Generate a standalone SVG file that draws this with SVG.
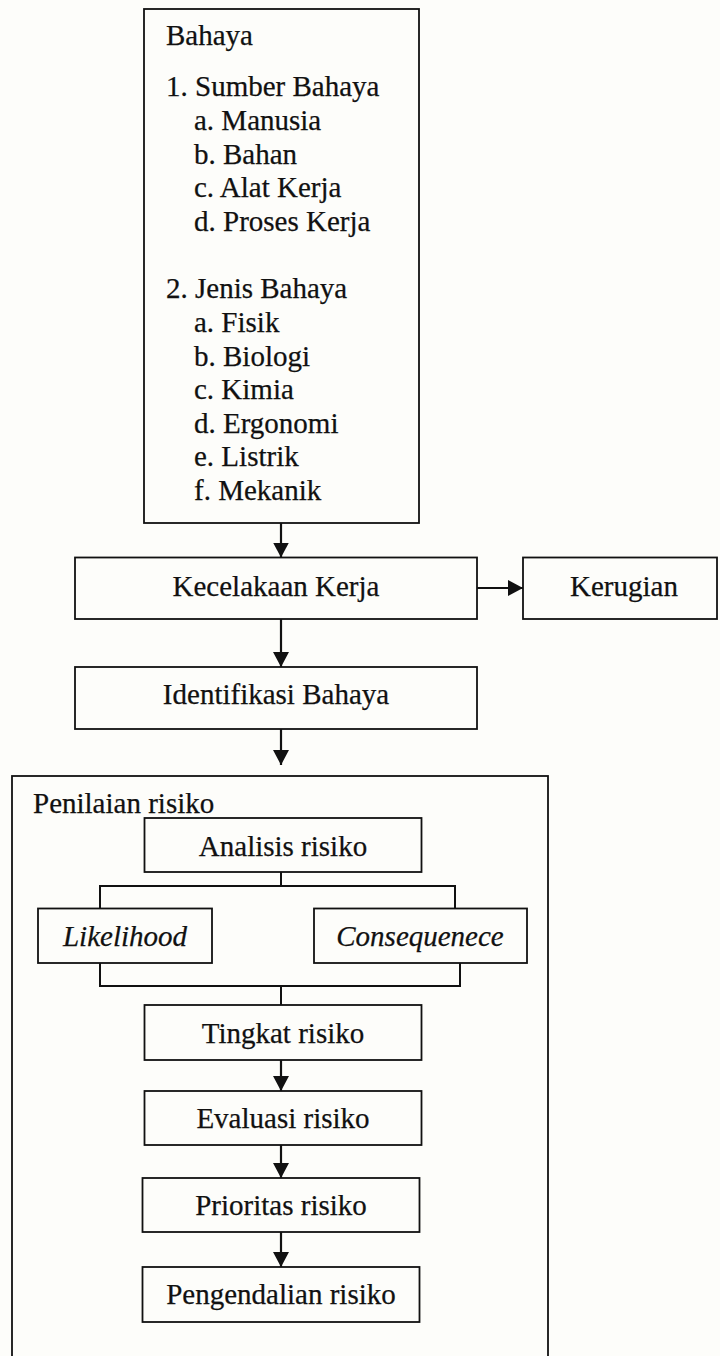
<svg xmlns="http://www.w3.org/2000/svg" width="720" height="1356" viewBox="0 0 720 1356">
  <style>
    .box { fill: none; stroke: #111; stroke-width: 1.8; }
    .t { font-family: "Liberation Serif", "Times New Roman", serif; font-size: 29px; fill: #111; stroke: #111; stroke-width: 0.25; }
    .c { text-anchor: middle; }
    .i { font-style: italic; }
    .wire { fill: none; stroke: #111; stroke-width: 2; }
    .arrow { fill: none; stroke: #111; stroke-width: 2.2; marker-end: url(#head); }
  </style>
  <defs>
    <marker id="head" viewBox="0 0 15 16" refX="15" refY="8" markerWidth="15" markerHeight="16" markerUnits="userSpaceOnUse" orient="auto">
      <path d="M0,0 L15,8 L0,16 Z" fill="#111"/>
    </marker>
  </defs>
  <rect width="720" height="1356" fill="#fdfdfa"/>

  <!-- hazard sources and types -->
  <g id="bahaya">
    <rect class="box" x="144" y="9" width="275" height="514"/>
    <text class="t" x="166" y="45">Bahaya</text>
    <text class="t" x="166" y="96">1. Sumber Bahaya</text>
    <text class="t" x="194" y="130">a. Manusia</text>
    <text class="t" x="194" y="164">b. Bahan</text>
    <text class="t" x="194" y="197">c. Alat Kerja</text>
    <text class="t" x="194" y="231">d. Proses Kerja</text>
    <text class="t" x="166" y="298">2. Jenis Bahaya</text>
    <text class="t" x="194" y="332">a. Fisik</text>
    <text class="t" x="194" y="366">b. Biologi</text>
    <text class="t" x="194" y="399">c. Kimia</text>
    <text class="t" x="194" y="433">d. Ergonomi</text>
    <text class="t" x="194" y="466">e. Listrik</text>
    <text class="t" x="194" y="500">f. Mekanik</text>
  </g>

  <g id="kecelakaan">
    <rect class="box" x="75" y="557.5" width="402" height="61.5"/>
    <text class="t c" x="276" y="596">Kecelakaan Kerja</text>
  </g>

  <g id="kerugian">
    <rect class="box" x="523" y="557.5" width="194" height="61.5"/>
    <text class="t c" x="624" y="596">Kerugian</text>
  </g>

  <g id="identifikasi">
    <rect class="box" x="75" y="667" width="402" height="62"/>
    <text class="t c" x="276" y="704">Identifikasi Bahaya</text>
  </g>

  <!-- risk assessment frame -->
  <g id="penilaian">
    <rect class="box" x="12" y="776" width="536" height="600"/>
    <text class="t" x="33" y="813">Penilaian risiko</text>
  </g>

  <g id="analisis">
    <rect class="box" x="144.5" y="818" width="277" height="54"/>
    <text class="t c" x="283" y="856">Analisis risiko</text>
  </g>

  <g id="likelihood">
    <rect class="box" x="38" y="908.5" width="174" height="54.5"/>
    <text class="t c i" x="125" y="946">Likelihood</text>
  </g>

  <g id="consequence">
    <rect class="box" x="314" y="908.5" width="213" height="54.5"/>
    <text class="t c i" x="420" y="946">Consequenece</text>
  </g>

  <g id="tingkat">
    <rect class="box" x="144.5" y="1005" width="277" height="55"/>
    <text class="t c" x="283" y="1043">Tingkat risiko</text>
  </g>

  <g id="evaluasi">
    <rect class="box" x="144.5" y="1091" width="277" height="54"/>
    <text class="t c" x="283" y="1128">Evaluasi risiko</text>
  </g>

  <g id="prioritas">
    <rect class="box" x="142.5" y="1178" width="277" height="54"/>
    <text class="t c" x="281" y="1215">Prioritas risiko</text>
  </g>

  <g id="pengendalian">
    <rect class="box" x="142.5" y="1267" width="277" height="55"/>
    <text class="t c" x="281" y="1304">Pengendalian risiko</text>
  </g>

  <g id="connectors">
    <line class="arrow" x1="281" y1="523" x2="281" y2="557.5"/>
    <line class="arrow" x1="477" y1="588" x2="523" y2="588"/>
    <line class="arrow" x1="281" y1="619" x2="281" y2="667"/>
    <line class="arrow" x1="281" y1="729" x2="281" y2="765"/>
    <polyline class="wire" points="281,872 281,886"/>
    <polyline class="wire" points="100,908.5 100,886 455,886 455,908.5"/>
    <polyline class="wire" points="100,963 100,986 460,986 460,963"/>
    <polyline class="wire" points="281,986 281,1005"/>
    <line class="arrow" x1="281" y1="1060" x2="281" y2="1091"/>
    <line class="arrow" x1="281" y1="1145" x2="281" y2="1178"/>
    <line class="arrow" x1="281" y1="1232" x2="281" y2="1267"/>
  </g>
</svg>
